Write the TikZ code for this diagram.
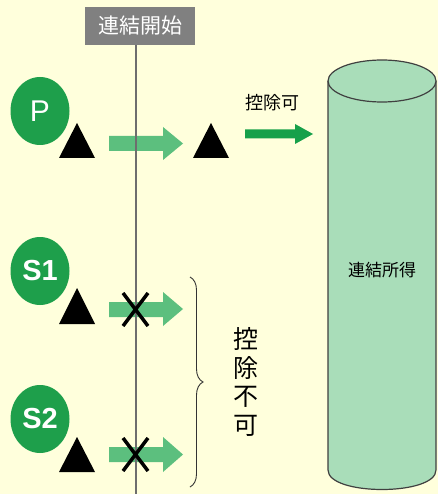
\documentclass[tikz,border=0pt]{standalone}
\usepackage{fontspec}
\newfontfamily\jp{Noto Sans CJK JP}
\newfontfamily\lat{Liberation Sans}
\usetikzlibrary{decorations.pathreplacing,shapes.geometric}
\definecolor{bg}{HTML}{FFFFDC}
\definecolor{circgreen}{HTML}{1E9F4B}
\definecolor{lightarrow}{HTML}{5CBF7E}
\definecolor{darkarrow}{HTML}{16A04A}
\definecolor{cylfill}{HTML}{A9DDB9}
\definecolor{linegray}{HTML}{6E6E6E}
\definecolor{boxgray}{HTML}{808080}
\tikzset{
  circ/.style={ellipse, fill=circgreen, minimum width=59pt, minimum height=68pt, inner sep=0pt, text=white},
  tri/.style={fill=black},
  larrow/.style={fill=lightarrow},
  xmark/.style={line width=3.5pt, black},
}
\begin{document}
\begin{tikzpicture}[x=1pt,y=-1pt]
\fill[bg] (0,0) rectangle (438,494);
\useasboundingbox (0,0) rectangle (438,494);
% label box
\node[fill=boxgray, text=white, minimum width=110pt, minimum height=38pt, inner sep=0pt, font=\jp\fontsize{21}{24}\selectfont] (start) at (140,26) {連結開始};
% circles
\node[circ, font=\lat\fontsize{30}{30}\selectfont] (P) at (40,111) {P};
\node[circ, font=\lat\bfseries\fontsize{29}{29}\selectfont] (S1) at (40,271) {S1};
\node[circ, font=\lat\bfseries\fontsize{29}{29}\selectfont] (S2) at (40,419) {S2};
% triangles
\fill[tri] (59,158) -- (77,123) -- (95,158) -- cycle;
\fill[tri] (193,158) -- (211,123) -- (229,158) -- cycle;
\fill[tri] (59,324) -- (77,288) -- (95,324) -- cycle;
\fill[tri] (59,472) -- (77,437) -- (95,472) -- cycle;
% light arrows
\fill[larrow] (109,136) -- (163,136) -- (163,127) -- (183,143.5) -- (163,160) -- (163,151) -- (109,151) -- cycle;
\fill[larrow] (109,302) -- (163,302) -- (163,292) -- (183,309) -- (163,326) -- (163,317) -- (109,317) -- cycle;
\fill[larrow] (109,447) -- (163,447) -- (163,437) -- (183,454.5) -- (163,472) -- (163,462) -- (109,462) -- cycle;
% vertical line
\coordinate (vbot) at (136,494);
\draw[linegray, line width=1.7pt] (start.south -| vbot) -- (vbot);
% X marks
\draw[xmark] (123,293) -- (148,326) (148,293) -- (123,326);
\draw[xmark] (123,438) -- (148,471) (148,438) -- (123,471);
% dark arrow
\fill[darkarrow] (245,129.5) -- (295,129.5) -- (295,124) -- (313,134) -- (295,144) -- (295,138.5) -- (245,138.5) -- cycle;
\node[font=\jp\fontsize{18}{20}\selectfont] (ok) at (272,103) {控除可};
% brace
\coordinate (btop) at (190,277);
\coordinate (bbot) at (190,487);
\draw[decorate, decoration={brace, amplitude=13pt}, line width=0.9pt, black!80] (btop) -- (bbot);
\node[align=center, font=\jp\fontsize{25}{28.5}\selectfont, inner sep=0pt] (ng) at (246,382) {控\\除\\不\\可};
% cylinder
\draw[fill=cylfill, draw=black!75, line width=1.2pt] (328,81) -- (328,470) .. controls (328,496) and (436,496) .. (436,470) -- (436,81);
\draw[fill=cylfill, draw=black!75, line width=1.2pt] (382,81) ellipse [x radius=54, y radius=21];
\node[font=\jp\fontsize{17}{20}\selectfont] (inc) at (382,270) {連結所得};
\end{tikzpicture}
\end{document}
